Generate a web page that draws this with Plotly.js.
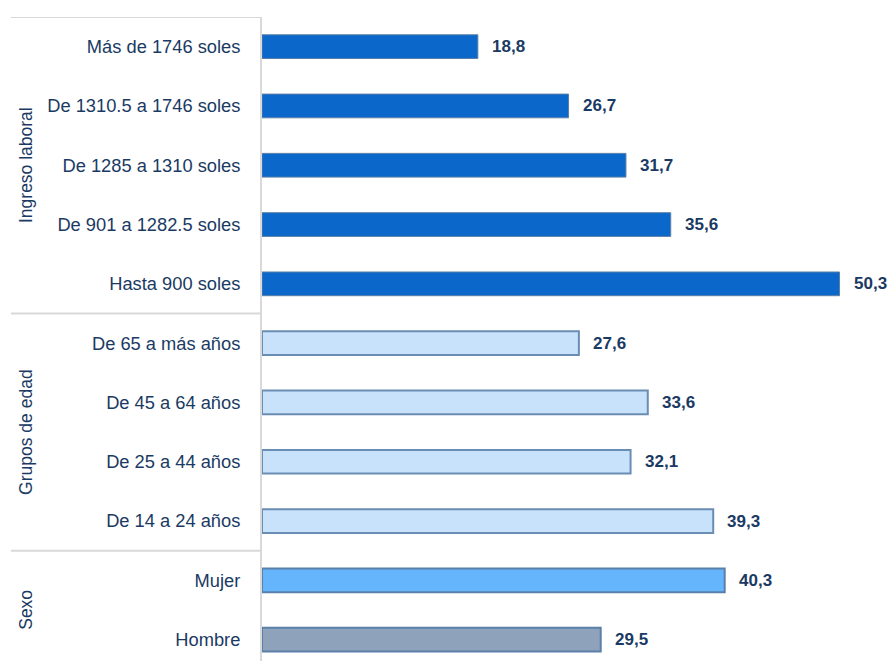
<!DOCTYPE html>
<html>
<head>
<meta charset="utf-8">
<script src="https://cdn.plot.ly/plotly-3.0.1.min.js"></script>
<style>html,body{margin:0;padding:0;background:#fff;}#chart{width:888px;height:661px;}</style>
</head>
<body>
<div id="chart"></div>
<script>
// Data (bottom to top)
const categories = [
  "Hombre", "Mujer",
  "De 14 a 24 años", "De 25 a 44 años", "De 45 a 64 años", "De 65 a más años",
  "Hasta 900 soles", "De 901 a 1282.5 soles", "De 1285 a 1310 soles", "De 1310.5 a 1746 soles", "Más de 1746 soles"
];
const values = [29.5, 40.3, 39.3, 32.1, 33.6, 27.6, 50.3, 35.6, 31.7, 26.7, 18.8];
const groups = ["Sexo", "Sexo", "Grupos de edad", "Grupos de edad", "Grupos de edad", "Grupos de edad",
  "Ingreso laboral", "Ingreso laboral", "Ingreso laboral", "Ingreso laboral", "Ingreso laboral"];
const groupNames = ["Ingreso laboral", "Grupos de edad", "Sexo"];

// Styles
const fillColors = {"Hombre": "#8ea3bb", "Mujer": "#64b5fc"};
const groupFill = {"Ingreso laboral": "#0b67c9", "Grupos de edad": "#c8e2fb"};
const lineColors = {"Ingreso laboral": "#5d7fa6", "Grupos de edad": "#6a8db3", "Sexo": "#5a80aa"};
const lineWidths = {"Ingreso laboral": 1, "Grupos de edad": 2, "Sexo": 2};

const FONT = "'Liberation Sans', Arial, sans-serif";
const TEXT = "#1a3a63";

const colors = categories.map((c, i) => fillColors[c] || groupFill[groups[i]]);

const trace = {
  type: "bar",
  orientation: "h",
  y: categories,
  x: values,
  width: 0.4,
  marker: {
    color: colors,
    line: {color: groups.map(g => lineColors[g]), width: groups.map(g => lineWidths[g])}
  },
  hoverinfo: "none"
};

const annotations = values.map((v, i) => ({
  x: v, y: categories[i], xref: "x", yref: "y",
  text: "<b>" + v.toFixed(1).replace(".", ",") + "</b>",
  showarrow: false, xanchor: "left", xshift: 12, yanchor: "middle",
  font: {family: FONT, size: 17, color: TEXT}
}));

// group titles (centered on each group's rows)
groupNames.forEach(g => {
  const idx = categories.map((c, i) => i).filter(i => groups[i] === g);
  const mid = (Math.min(...idx) + Math.max(...idx)) / 2;
  annotations.push({
    x: -0.381, xref: "paper", y: mid, yref: "y",
    text: g, textangle: -90, showarrow: false, xanchor: "center", yanchor: "middle",
    font: {family: FONT, size: 17.5, color: TEXT}
  });
});

const lineStyle = {color: "#d9d9d9", width: 2};
const shapes = [10.5, 5.5, 1.5].map(yv => ({
  type: "line", xref: "paper", yref: "y", x0: -0.405, x1: 0, y0: yv, y1: yv, line: lineStyle
}));

const layout = {
  width: 888, height: 661,
  margin: {l: 262, r: 6, t: 17, b: 0, pad: 0},
  paper_bgcolor: "#fff", plot_bgcolor: "#fff",
  showlegend: false,
  font: {family: FONT, color: TEXT},
  xaxis: {range: [0, 54], visible: false, showgrid: false, zeroline: false, fixedrange: true},
  yaxis: {
    type: "category", categoryorder: "array", categoryarray: categories,
    range: [-0.36, 10.5],
    showline: true, linecolor: "#d9d9d9", linewidth: 2,
    showgrid: false, zeroline: false,
    ticks: "outside", ticklen: 16, tickcolor: "rgba(0,0,0,0)",
    tickfont: {family: FONT, size: 18.3, color: TEXT},
    fixedrange: true
  },
  bargap: 0.6,
  annotations: annotations,
  shapes: shapes
};

Plotly.newPlot("chart", [trace], layout, {displayModeBar: false, staticPlot: true});
</script>
</body>
</html>
